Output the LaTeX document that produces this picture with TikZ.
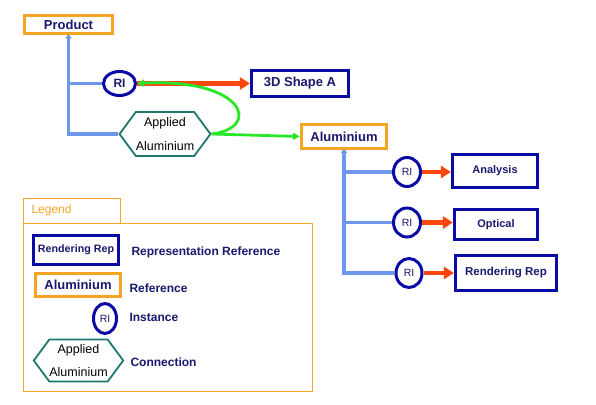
\documentclass[tikz,border=0pt]{standalone}
\usepackage{fontspec}
\setmainfont{Liberation Sans}
\usetikzlibrary{arrows.meta,positioning,shapes.geometric,shapes.symbols}

\definecolor{refOrange}{RGB}{245,165,35}
\definecolor{reprBlue}{RGB}{10,10,165}
\definecolor{navyText}{RGB}{25,25,110}
\definecolor{trunkBlue}{RGB}{110,150,235}
\definecolor{instRed}{RGB}{255,70,10}
\definecolor{connGreen}{RGB}{40,230,40}
\definecolor{connTeal}{RGB}{30,120,110}

\begin{document}
\begin{tikzpicture}[x=1pt,y=-1pt]
\tikzset{
    refbox/.style={
           rectangle,
           draw=refOrange,
           line width=3.2pt,
           fill=white,
           text=navyText,
           inner sep=0pt,
           font=\bfseries\fontsize{13}{15}\selectfont},
    reprbox/.style={
           rectangle,
           draw=reprBlue,
           line width=3.2pt,
           fill=white,
           text=navyText,
           inner sep=0pt,
           font=\bfseries\fontsize{11}{13}\selectfont},
    inst/.style={
           ellipse,
           draw=reprBlue,
           line width=3pt,
           fill=white,
           inner sep=0pt,
           text=navyText,
           font=\fontsize{10.5}{12}\selectfont},
    conn/.style={
           signal,
           signal to=west and east,
           signal pointer angle=107,
           draw=connTeal,
           line width=1.8pt,
           fill=white,
           inner sep=0pt,
           align=center,
           font=\fontsize{12.5}{24}\selectfont},
    legendlabel/.style={
           anchor=west,
           text=navyText,
           font=\bfseries\fontsize{12}{14}\selectfont},
    % Define connector styles
    trunk/.style={
           draw=trunkBlue,
           line width=3.2pt},
    instarrow/.style={
           -{Triangle[length=10pt,width=12pt]},
           draw=instRed,
           line width=4.5pt},
    connarrow/.style={
           -{Triangle[length=7pt,width=7pt]},
           draw=connGreen,
           line width=2.8pt}
}
\useasboundingbox[fill=white] (0,0) rectangle (596,404);

% product structure
\node[refbox,minimum width=88pt,minimum height=18pt] (product) at (68.5,24.5) {Product};
\node[inst,minimum width=32pt,minimum height=24pt,font=\bfseries\fontsize{12}{14}\selectfont] (riShape) at (119.5,83.5) {RI};
\node[reprbox,minimum width=97pt,minimum height=26pt,font=\bfseries\fontsize{13}{15}\selectfont] (shapeA) at (300,83.5) {3D Shape A};
\node[conn,minimum width=88pt,minimum height=44pt] (applied) at (165,134) {Applied\\Aluminium};
\node[refbox,minimum width=85pt,minimum height=24pt] (alu) at (344,136.5) {Aluminium};

% representations of the material
\node[inst,minimum width=27pt,minimum height=29pt] (riAnalysis) at (407,172) {RI};
\node[inst,minimum width=27pt,minimum height=29pt] (riOptical) at (407,222.5) {RI};
\node[inst,minimum width=26pt,minimum height=29pt] (riRender) at (409,273) {RI};
\node[reprbox,minimum width=85pt,minimum height=33pt] (analysis) at (495,171) {Analysis};
\node[reprbox,minimum width=83pt,minimum height=30pt] (optical) at (496,224.5) {Optical};
\node[reprbox,minimum width=101pt,minimum height=35pt,font=\bfseries\fontsize{11.5}{13}\selectfont] (render) at (506,273) {Rendering Rep};

\draw[trunk,{Diamond[length=5pt,width=6pt]}-] (product.south) |- (riShape.west);
\draw[trunk] (product.south) |- (applied.west);
\draw[trunk,{Diamond[length=5pt,width=6pt]}-] (alu.south) |- (riAnalysis.west);
\draw[trunk] (alu.south) |- (riOptical.west);
\draw[trunk] (alu.south) |- (riRender.west);

\draw[instarrow] (riShape.east) -- (shapeA.west);
\draw[instarrow] (riAnalysis.east) -- (riAnalysis.east -| analysis.west);
\draw[instarrow] (riOptical.east) -- (riOptical.east -| optical.west);
\draw[instarrow] (riRender.east) -- (riRender.east -| render.west);

\draw[connarrow] (applied.east) -- (alu.west);
\draw[connarrow] (applied.east) .. controls (262,128) and (245,78) .. (riShape.east);

% legend
\draw[refOrange,line width=1pt] (23,198) rectangle (120,223);
\draw[refOrange,line width=1pt] (23,223) rectangle (312,391);
\node[anchor=west,text=refOrange,font=\fontsize{12}{14}\selectfont] (legendTitle) at (28,210.5) {Legend};

\node[reprbox,minimum width=85pt,minimum height=29pt,font=\bfseries\fontsize{10.7}{13}\selectfont] (legRepr) at (76,250) {Rendering Rep};
\node[refbox,minimum width=85pt,minimum height=23pt] (legRef) at (78,285) {Aluminium};
\node[inst,minimum width=23pt,minimum height=30pt] (legInst) at (105,318.5) {RI};
\node[conn,minimum width=87pt,minimum height=42pt,font=\fontsize{12.5}{23}\selectfont] (legConn) at (78.5,360.5) {Applied\\Aluminium};

\node[legendlabel] (txtRepr) at (128,252) {Representation Reference};
\node[legendlabel] (txtRef) at (126,288) {Reference};
\node[legendlabel] (txtInst) at (126,317) {Instance};
\node[legendlabel] (txtConn) at (127,362) {Connection};
\end{tikzpicture}
\end{document}
